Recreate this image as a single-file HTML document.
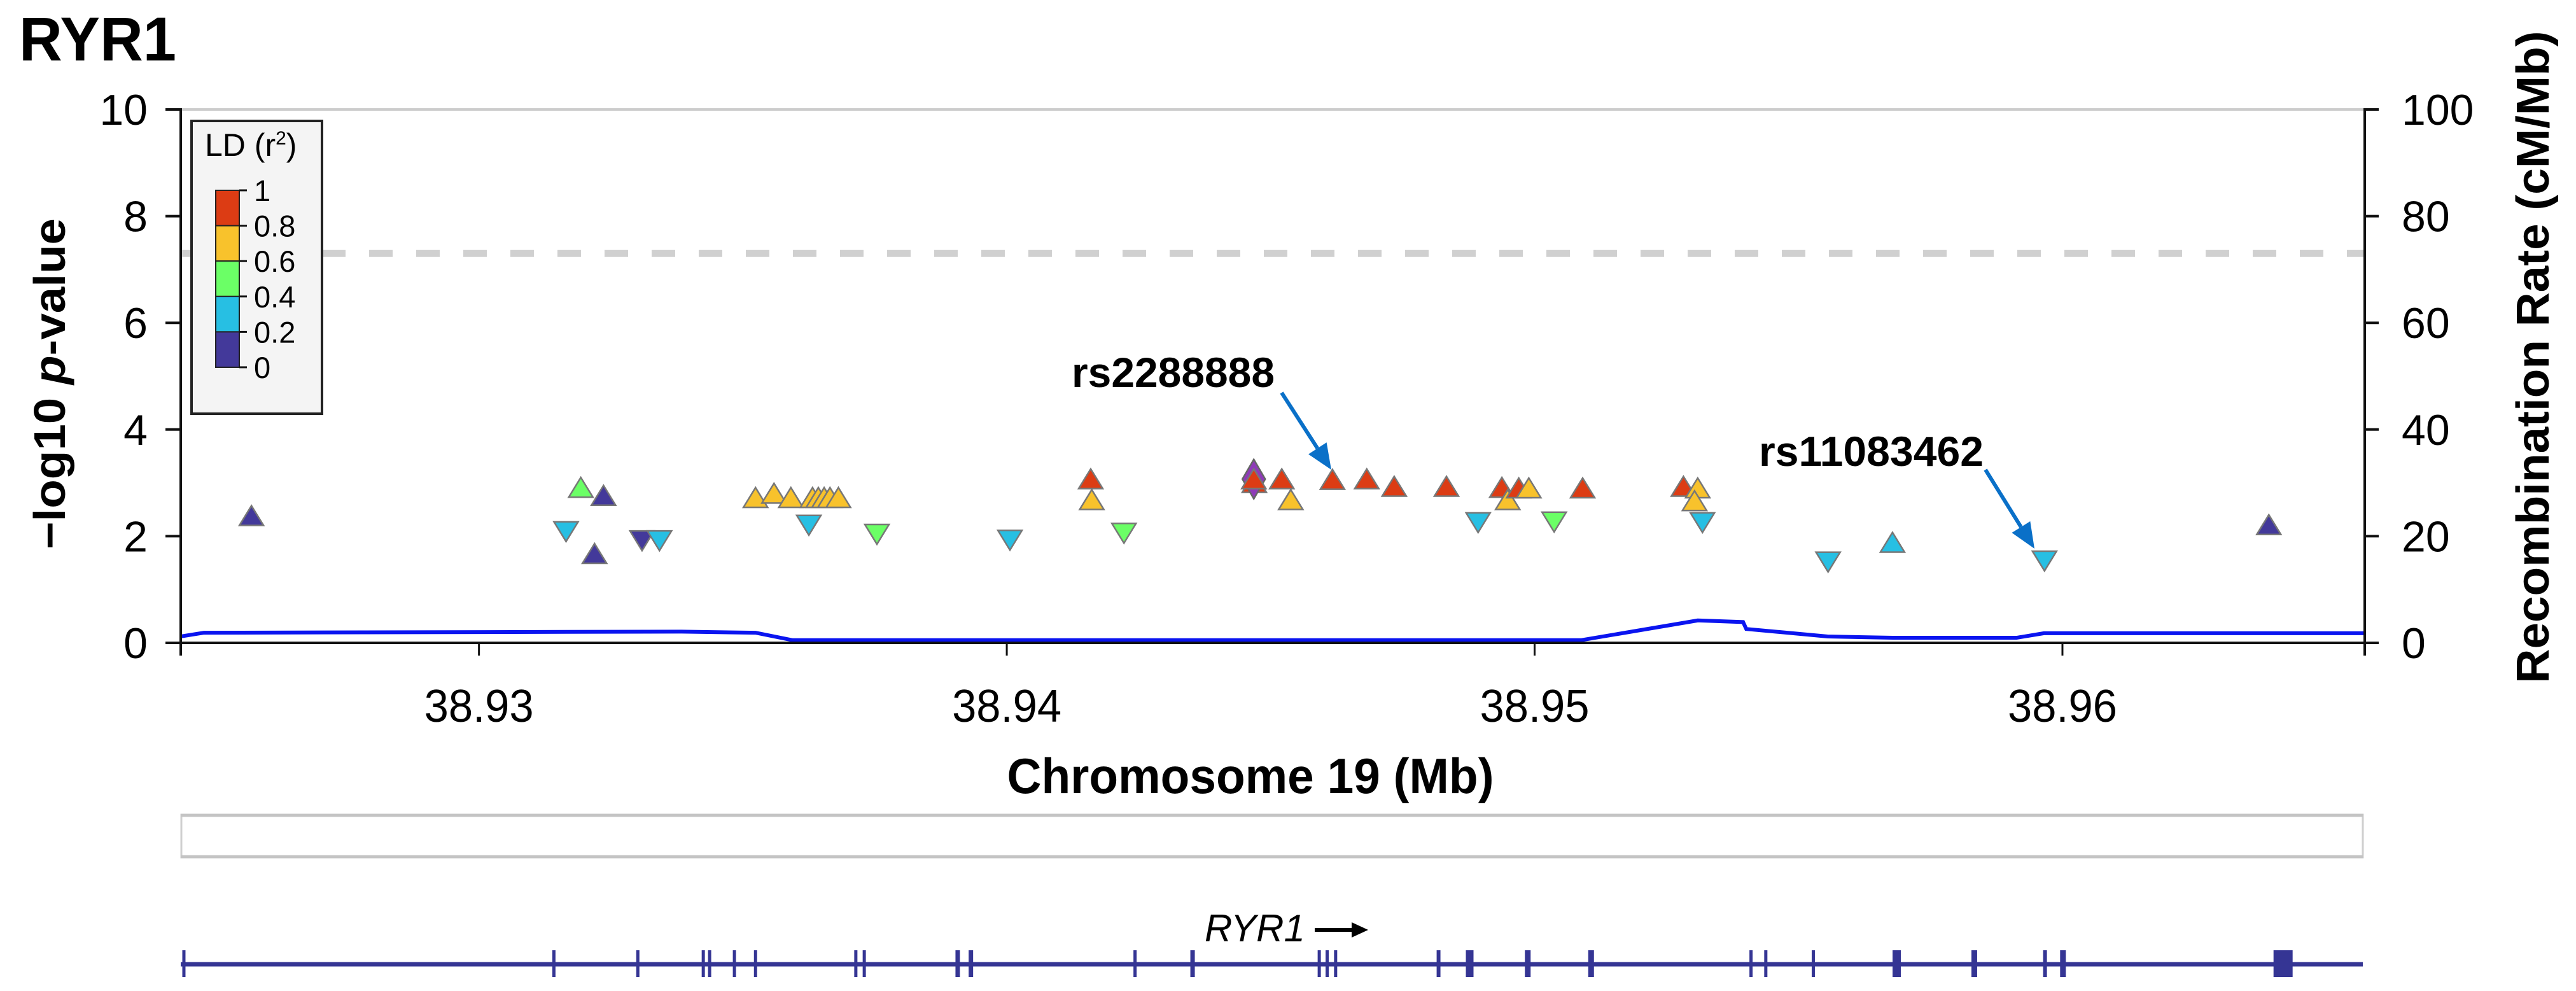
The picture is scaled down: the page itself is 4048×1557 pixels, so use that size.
<!DOCTYPE html>
<html><head><meta charset="utf-8"><style>
html,body{margin:0;padding:0;background:#fff}
svg{display:block}
text{font-family:"Liberation Sans",Arial,sans-serif}
</style></head><body>
<svg id="chart" xmlns="http://www.w3.org/2000/svg" width="4048" height="1557" viewBox="0 0 4048 1557">
<text x="30" y="95" font-size="97" font-weight="bold" textLength="247" lengthAdjust="spacingAndGlyphs">RYR1</text>
<g id="plot"></g>
</svg>
<script>
const xMin = 38.92435, xMax = 38.965727;
const xTicks = [38.93, 38.94, 38.95, 38.96];
const xTickLabels = ["38.93", "38.94", "38.95", "38.96"];
const yTicks = [0, 2, 4, 6, 8, 10];
const y2Ticks = [0, 20, 40, 60, 80, 100];
const sigLine = 7.3;
const snpPos = [38.92569,38.93165,38.93193,38.93236,38.93219,38.93309,38.93342,38.93524,38.93559,38.93591,38.93632,38.93643,38.93654,38.93665,38.93681,38.93625,38.93754,38.94006,38.94159,38.94161,38.94222,38.94469,38.94521,38.94538,38.94617,38.94682,38.94734,38.94833,38.94893,38.94938,38.94949,38.94970,38.94989,38.95037,38.95091,38.95282,38.95309,38.95303,38.95318,38.95556,38.95678,38.95966,38.96391];
const snpLogP = [2.38,2.09,2.91,2.76,1.67,1.92,1.92,2.72,2.8,2.72,2.72,2.72,2.72,2.72,2.72,2.21,2.04,1.93,3.07,2.68,2.06,3.0,3.07,2.68,3.06,3.07,2.93,2.93,2.26,2.91,2.68,2.9,2.9,2.27,2.9,2.93,2.9,2.66,2.26,1.52,1.88,1.54,2.21];
const snpR2 = [0.1,0.3,0.5,0.1,0.1,0.1,0.3,0.7,0.7,0.7,0.7,0.7,0.7,0.7,0.7,0.3,0.5,0.3,0.9,0.7,0.5,0.9,0.9,0.7,0.9,0.9,0.9,0.9,0.3,0.9,0.7,0.9,0.7,0.5,0.9,0.9,0.7,0.7,0.3,0.3,0.3,0.3,0.1];
const snpDir = ["up","down","up","up","up","down","down","up","up","up","up","up","up","up","up","down","down","down","up","up","down","up","up","up","up","up","up","up","down","up","up","up","up","down","up","up","up","up","down","down","up","down","up"];
const leadPos = 38.94468, leadLogP = 3.07;
const recPos = [38.92435,38.92479,38.93384,38.93524,38.93594,38.95088,38.95309,38.95395,38.95401,38.95555,38.95679,38.95913,38.95965,38.96573];
const recRate = [1.2,1.9,2.1,1.9,0.5,0.5,4.2,3.9,2.6,1.2,0.95,0.95,1.8,1.8];
const exonPos = [38.92441,38.93142,38.93301,38.93425,38.93437,38.93484,38.93524,38.93714,38.93730,38.93907,38.93932,38.94243,38.94352,38.94592,38.94607,38.94623,38.94818,38.94877,38.94987,38.95107,38.95410,38.95438,38.95528,38.95686,38.95833,38.95967,38.96001,38.96418];
const exonWidth = [5,5,5,5,5,5,5,5,5,7,7,5,7,5,5,5,6,12,9,9,5,5,5,13,9,6,9,30];
const legendLabels = ["1","0.8","0.6","0.4","0.2","0"];
const legendColors = ["#dc3c14","#f8c22c","#6bff66","#27bfe3","#43399a"];

const L=284,R=3716,T=172,B=1010;
const xs=v=>L+(v-xMin)/(xMax-xMin)*(R-L);
const ys=v=>B-v/10*(B-T);
const y2s=v=>B-v/100*(B-T);
const NS="http://www.w3.org/2000/svg";
const g=document.getElementById('plot');
function mk(tag,attrs,parent){const e=document.createElementNS(NS,tag);for(const k in attrs)e.setAttribute(k,attrs[k]);(parent||g).appendChild(e);return e;}
function colorFor(r){return r>=0.8?legendColors[0]:r>=0.6?legendColors[1]:r>=0.4?legendColors[2]:r>=0.2?legendColors[3]:legendColors[4];}

let e;
e=mk('line',{x1:L,y1:T,x2:R,y2:T,stroke:'#cccccc','stroke-width':4});


e=mk('line',{x1:L,y1:ys(sigLine),x2:R,y2:ys(sigLine),stroke:'#d0d0d0','stroke-width':11,'stroke-dasharray':'37 37'});



// recombination line
e=mk('polyline',{points:recPos.map((p,i)=>xs(p)+','+y2s(recRate[i])).join(' '),fill:'none',stroke:'#0a14f0','stroke-width':6});



// axes
e=mk('line',{x1:L,y1:T-2,x2:L,y2:B+20,stroke:'#111','stroke-width':4});


e=mk('line',{x1:R,y1:T-2,x2:R,y2:B+20,stroke:'#111','stroke-width':4});


e=mk('line',{x1:L,y1:B,x2:R,y2:B,stroke:'#111','stroke-width':4});



yTicks.forEach(v=>{
  const y=ys(v);
  e=mk('line',{x1:L-24,y1:y,x2:L,y2:y,stroke:'#111','stroke-width':4});
  
  
  e=mk('text',{x:L-52,y:y+24,'font-size':68,'text-anchor':'end'});
  e.textContent=v;
  
  
});
y2Ticks.forEach(v=>{
  const y=y2s(v);
  e=mk('line',{x1:R,y1:y,x2:R+22,y2:y,stroke:'#111','stroke-width':4});
  
  
  e=mk('text',{x:R+58,y:y+24,'font-size':68,'text-anchor':'start'});
  e.textContent=v;
  
  
});
xTicks.forEach((v,i)=>{
  const x=xs(v);
  e=mk('line',{x1:x,y1:B,x2:x,y2:B+20,stroke:'#111','stroke-width':3});
  
  
  e=mk('text',{x:x,y:1134,'font-size':72,'text-anchor':'middle',textLength:172,lengthAdjust:'spacingAndGlyphs'});
  e.textContent=xTickLabels[i];
  
  
});

// axis titles
e=mk('text',{x:1965,y:1246,'font-size':78,'font-weight':'bold','text-anchor':'middle',textLength:765,lengthAdjust:'spacingAndGlyphs'});
e.textContent='Chromosome 19 (Mb)';


e=mk('text',{x:0,y:0,'font-size':70,'font-weight':'bold','text-anchor':'middle',transform:'translate(102,603) rotate(-90)',textLength:520,lengthAdjust:'spacingAndGlyphs'});
e.innerHTML='−log10 <tspan font-style="italic">p</tspan>-value';


e=mk('text',{x:0,y:0,'font-size':72,'font-weight':'bold','text-anchor':'middle',transform:'translate(4005,561) rotate(-90)',textLength:1025,lengthAdjust:'spacingAndGlyphs'});
e.textContent='Recombination Rate (cM/Mb)';



// legend
e=mk('rect',{x:301,y:190,width:205,height:460,fill:'#f4f4f4',stroke:'#222','stroke-width':4});


e=mk('text',{x:322,y:245,'font-size':50});
e.innerHTML='LD (r<tspan font-size="30" dy="-18">2</tspan><tspan dy="18">)</tspan>';


const segH=(577-299)/legendColors.length;
legendColors.forEach((c,i)=>{
  e=mk('rect',{x:339,y:299+i*segH,width:37,height:segH,fill:c,stroke:'#222','stroke-width':2});
  
  
});
legendLabels.forEach((t,i)=>{
  const y=299+i*segH;
  e=mk('line',{x1:376,y1:y,x2:388,y2:y,stroke:'#111','stroke-width':3});
  
  
  e=mk('text',{x:399,y:y+17,'font-size':47});
  e.textContent=t;
  
  
});

// SNP points
snpPos.forEach((p,i)=>{
  const cx=xs(p),cy=ys(snpLogP[i]);
  const pts=snpDir[i]==='up'?`${cx},${cy-16} ${cx+19},${cy+15} ${cx-19},${cy+15}`:`${cx-19},${cy-15} ${cx+19},${cy-15} ${cx},${cy+16}`;
  e=mk('polygon',{points:pts,fill:colorFor(snpR2[i]),stroke:'#777','stroke-width':2.5});
  
  
});
{
  const cx=xs(leadPos),cy=ys(leadLogP);
  e=mk('polygon',{points:`${cx},${cy-31} ${cx+18},${cy} ${cx},${cy+31} ${cx-18},${cy}`,fill:'#8e3ab8',stroke:'#666','stroke-width':2.5});
  
  
  e=mk('polygon',{points:`${cx},${cy-16} ${cx+19},${cy+15} ${cx-19},${cy+15}`,fill:legendColors[0],stroke:'#777','stroke-width':2.5});
  
  
}

// annotations
function arrow(x1,y1,x2,y2,name){
  const a=Math.atan2(y2-y1,x2-x1),h=40,w=17;
  const bx=x2-h*Math.cos(a),by=y2-h*Math.sin(a);
  e=mk('line',{x1:x1,y1:y1,x2:bx,y2:by,stroke:'#0a70c8','stroke-width':6});
  
  
  e=mk('polygon',{points:`${x2},${y2} ${bx+w*Math.sin(a)},${by-w*Math.cos(a)} ${bx-w*Math.sin(a)},${by+w*Math.cos(a)}`,fill:'#0a70c8'});
  
  
}
e=mk('text',{x:1684,y:608,'font-size':66,'font-weight':'bold',textLength:319,lengthAdjust:'spacingAndGlyphs'});
e.textContent='rs2288888';


arrow(2014,617,2092,738,'rs2288888');
e=mk('text',{x:2764,y:732,'font-size':66,'font-weight':'bold',textLength:353,lengthAdjust:'spacingAndGlyphs'});
e.textContent='rs11083462';


arrow(3120,738,3197,862,'rs11083462');

// gene track
e=mk('rect',{x:285,y:1280,width:3428,height:67,fill:'#fff',stroke:'#cfcfcf','stroke-width':3});


e=mk('line',{x1:284,y1:1346,x2:3713,y2:1346,stroke:'#c4c4c4','stroke-width':5});


e=mk('line',{x1:284,y1:1281,x2:3713,y2:1281,stroke:'#c4c4c4','stroke-width':5});


e=mk('line',{x1:L,y1:1515,x2:3713,y2:1515,stroke:'#353594','stroke-width':7});


exonPos.forEach((p,i)=>{
  e=mk('rect',{x:xs(p)-exonWidth[i]/2,y:1493,width:exonWidth[i],height:42,fill:'#353594'});
  
  
});
e=mk('text',{x:1893,y:1479,'font-size':60,'font-style':'italic'});
e.textContent='RYR1';


e=mk('line',{x1:2066,y1:1461,x2:2128,y2:1461,stroke:'#000','stroke-width':6});


e=mk('polygon',{points:'2150,1461 2124,1449 2124,1473',fill:'#000'});


</script>
</body></html>
